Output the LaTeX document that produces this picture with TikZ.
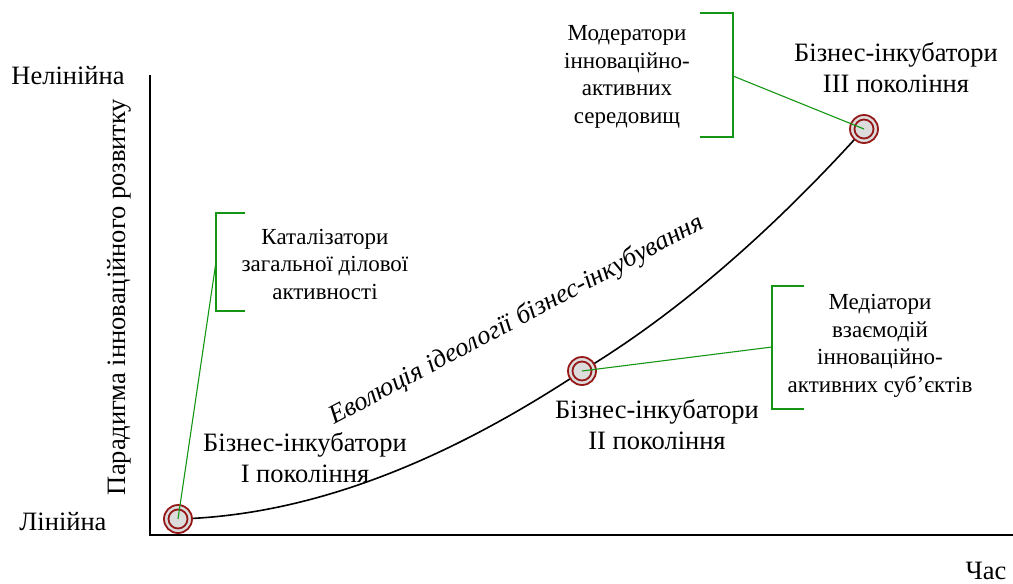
\documentclass[tikz,border=0pt]{standalone}
\usepackage{fontspec}
\setmainfont{Liberation Serif}
\begin{document}
\begin{tikzpicture}[x=1pt,y=1pt,
  axis/.style={line width=2.4pt},
  curve/.style={line width=1.6pt},
  link/.style={draw=linkgreen, line width=1.1pt},
  bracket/.style={draw=linkgreen, line width=1.3pt},
  bigtext/.style={align=center, inner sep=0pt, font=\rmfamily\fontsize{26.5}{31}\selectfont},
  smalltext/.style={align=center, inner sep=0pt, font=\rmfamily\fontsize{23}{27.5}\selectfont},
  marker/.style={circle, draw=ringred, fill=markgrey, line width=1.8pt, minimum size=28pt, inner sep=0pt,
    path picture={\draw[ringred, line width=1.8pt] (path picture bounding box.center) circle (9.5pt);}},
]
\definecolor{linkgreen}{RGB}{20,150,20}
\definecolor{ringred}{RGB}{150,25,25}
\definecolor{markgrey}{RGB}{220,220,220}
\useasboundingbox (0,0) rectangle (1013,-584);

% axes
\coordinate (o) at (150,-535);
\coordinate (ytop) at (150,-75);
\coordinate (xend) at (1013,-535);
\draw[axis] (ytop) -- (o) -- (xend);

% axis labels
\node[bigtext] (nonlin) at (68,-76) {Нелінійна};
\node[bigtext] (lin) at (63,-522) {Лінійна};
\node[bigtext] (time) at (986,-571) {Час};
\node[bigtext, rotate=90] (ylab) at (119,-297) {Парадигма інноваційного розвитку};

% evolution curve
\coordinate (p1) at (178,-519);
\coordinate (p2) at (582,-371);
\coordinate (p3) at (864,-129);
\draw[curve] (p1) .. controls (330,-515) and (470,-445) .. (p2)
                  .. controls (700,-300) and (800,-200) .. (p3);
\node[bigtext, font=\rmfamily\fontsize{26.5}{31}\selectfont\itshape, rotate=28, anchor=base west] (evo) at (334,-425)
  {Еволюція ідеології бізнес-інкубування};

% generation labels
\node[bigtext] (g1) at (305,-458) {Бізнес-інкубатори\\І покоління};
\node[bigtext] (g2) at (657,-425) {Бізнес-інкубатори\\ІІ покоління};
\node[bigtext] (g3) at (896,-68) {Бізнес-інкубатори\\ІІІ покоління};

% brackets with descriptions
\coordinate (b1t) at (245,-213);
\coordinate (b1a) at (216,-213);
\coordinate (b1b) at (216,-311);
\coordinate (b1e) at (245,-311);
\coordinate (b1m) at (216,-262);
\draw[bracket] (b1t) -- (b1a) -- (b1b) -- (b1e);
\node[smalltext] (d1) at (325,-264) {Каталізатори\\загальної ділової\\активності};

\coordinate (b2t) at (700,-13);
\coordinate (b2a) at (733,-13);
\coordinate (b2b) at (733,-137);
\coordinate (b2e) at (700,-137);
\coordinate (b2m) at (733,-76);
\draw[bracket] (b2t) -- (b2a) -- (b2b) -- (b2e);
\node[smalltext] (d2) at (627,-77) {Модератори\\інноваційно-\\активних\\середовищ};

\coordinate (b3t) at (804,-286);
\coordinate (b3a) at (772,-286);
\coordinate (b3b) at (772,-409);
\coordinate (b3e) at (804,-409);
\coordinate (b3m) at (772,-347);
\draw[bracket] (b3t) -- (b3a) -- (b3b) -- (b3e);
\node[smalltext] (d3) at (880,-346) {Медіатори\\взаємодій\\інноваційно-\\активних суб’єктів};

% markers and links
\node[marker] (m1) at (p1) {};
\node[marker] (m2) at (p2) {};
\node[marker] (m3) at (p3) {};
\draw[link] (m1.center) -- (b1m);
\draw[link] (m2.center) -- (b3m);
\draw[link] (b2m) -- (m3.center);
\end{tikzpicture}
\end{document}
